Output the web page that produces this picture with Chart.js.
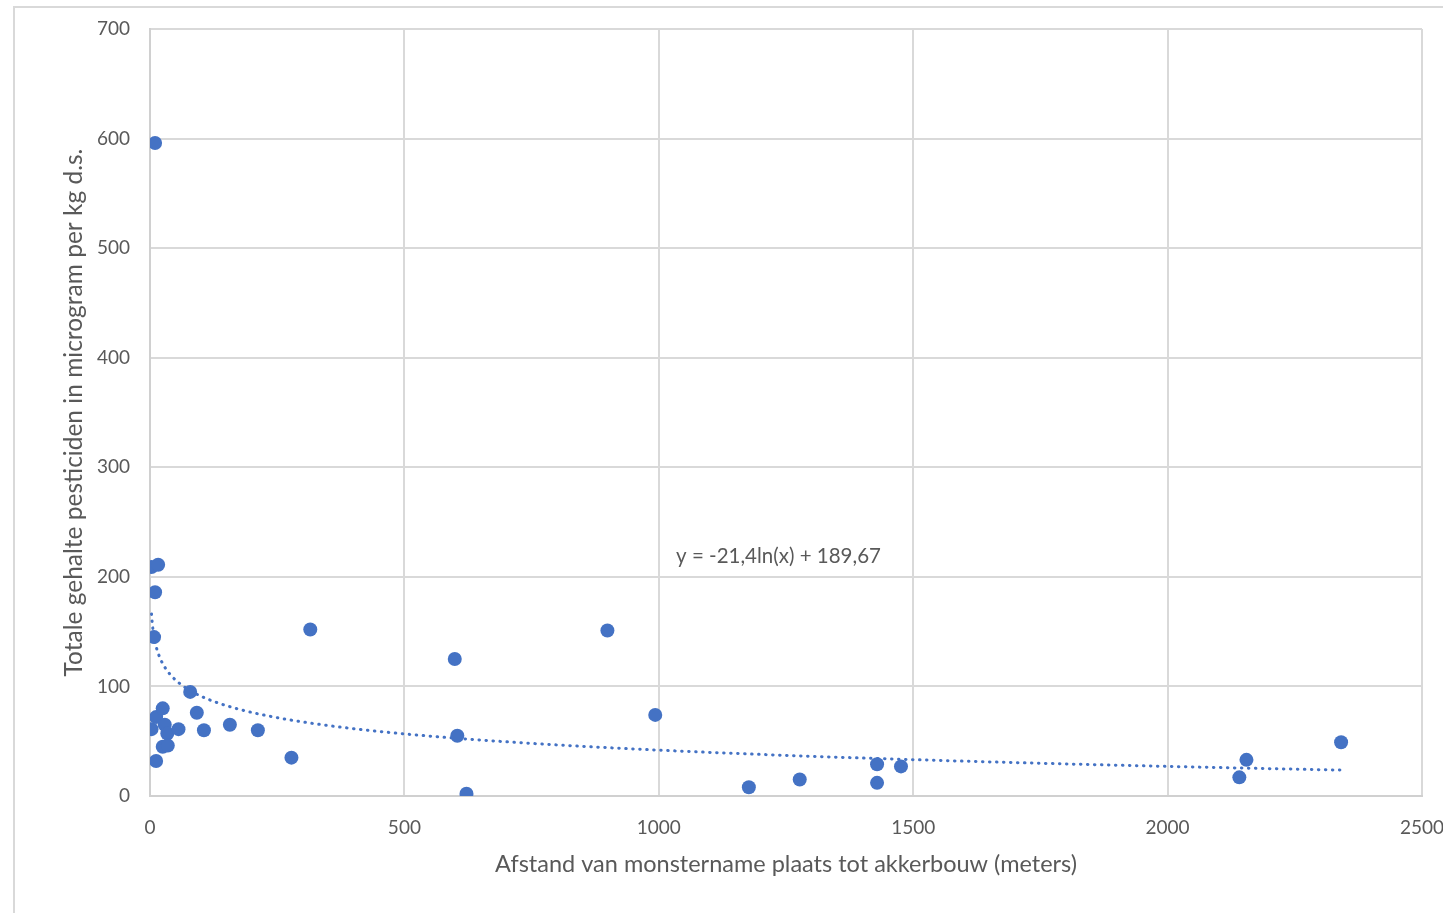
<!DOCTYPE html>
<html>
<head>
<meta charset="utf-8">
<script src="https://cdn.jsdelivr.net/npm/chart.js@4/dist/chart.umd.min.js"></script>
<style>
  html, body { margin: 0; padding: 0; background: #fff; overflow: hidden; width: 1443px; height: 913px; }
  #frame { position: absolute; left: 13px; top: 6px; width: 1500px; height: 1000px; border: 2px solid #d9d9d9; box-sizing: border-box; }
  #wrap { position: absolute; left: 0; top: 0; width: 1483px; height: 913px; }
</style>
</head>
<body>
<div id="frame"></div>
<div id="wrap"><canvas id="c" width="1483" height="913"></canvas></div>
<script>
// Distance (m) and total pesticide content (µg/kg d.s.)
const distances = [10, 3, 16, 10, 8, 3, 12, 25, 29, 34, 56, 79, 92, 106, 157, 212, 25, 35, 12, 278, 315, 599, 604, 622, 899, 993, 1177, 1277, 1429, 1429, 1476, 2141, 2155, 2341];
const totals    = [596, 209, 211, 186, 145, 61, 72, 80, 65, 57, 61, 95, 76, 60, 65, 60, 45, 46, 32, 35, 152, 125, 55, 2, 151, 74, 8, 15, 29, 12, 27, 17, 33, 49];

// Trendline equation as shown on the chart: y = -21,4 ln(x) + 189,67
const trendA = -21.4;
const trendB = 189.67;
const equationLabel = 'y = -21,4ln(x) + 189,67';

const xTicks = [0, 500, 1000, 1500, 2000, 2500];
const yTicks = [0, 100, 200, 300, 400, 500, 600, 700];

const xTitle = 'Afstand van monstername plaats tot akkerbouw (meters)';
const yTitle = 'Totale gehalte pesticiden in microgram per kg d.s.';

const points = distances.map((d, i) => ({ x: d, y: totals[i] }));

// trendline sampled between min and max distance
const xmin = Math.min(...distances), xmax = Math.max(...distances);
const trend = [];
const N = 300;
for (let i = 0; i <= N; i++) {
  const x = xmin * Math.pow(xmax / xmin, i / N);
  trend.push({ x: x, y: trendA * Math.log(x) + trendB });
}

const FONT = 'Lato, "Open Sans", sans-serif';
const GREY = '#595959';

const eqPlugin = {
  id: 'eq',
  afterDatasetsDraw(chart) {
    const { ctx, scales } = chart;
    const px = scales.x.getPixelForValue(1034);
    const py = scales.y.getPixelForValue(219);
    ctx.save();
    ctx.font = '20.5px ' + FONT;
    ctx.fillStyle = GREY;
    ctx.textAlign = 'left';
    ctx.textBaseline = 'middle';
    ctx.fillText(equationLabel, px, py);
    ctx.restore();
  }
};

new Chart(document.getElementById('c'), {
  type: 'scatter',
  data: {
    datasets: [
      {
        label: 'Totale gehalte',
        data: points,
        backgroundColor: '#4472C4',
        borderColor: '#4472C4',
        pointRadius: 7,
        pointHoverRadius: 7,
        borderWidth: 0
      },
      {
        label: 'Trend',
        type: 'line',
        data: trend,
        borderColor: '#4472C4',
        borderWidth: 3,
        borderDash: [0.5, 6.5],
        borderCapStyle: 'round',
        pointRadius: 0,
        fill: false,
        tension: 0
      }
    ]
  },
  options: {
    responsive: false,
    animation: false,
    layout: { padding: { top: 29, right: 61, left: 0, bottom: 0 } },
    plugins: { legend: { display: false }, tooltip: { enabled: false } },
    scales: {
      x: {
        type: 'linear',
        min: 0, max: 2500,
        afterBuildTicks: s => { s.ticks = xTicks.map(v => ({ value: v })); },
        afterFit: s => { s.height = 117; },
        grid: { color: '#d9d9d9', lineWidth: 2, drawTicks: false },
        border: { color: '#d0d0d0', width: 2 },
        ticks: { color: GREY, font: { family: FONT, size: 19 }, padding: 20, maxRotation: 0, callback: v => String(v) },
        title: { display: true, text: xTitle, color: GREY, font: { family: FONT, size: 23.5 }, padding: { top: 0, bottom: 34 } }
      },
      y: {
        type: 'linear',
        min: 0, max: 700,
        afterBuildTicks: s => { s.ticks = yTicks.map(v => ({ value: v })); },
        afterFit: s => { s.width = 150; s.paddingTop = 0; },
        grid: { color: '#d9d9d9', lineWidth: 2, drawTicks: false },
        border: { color: '#d0d0d0', width: 2 },
        ticks: { color: GREY, font: { family: FONT, size: 19, lineHeight: 1 }, padding: 20, callback: v => String(v) },
        title: { display: true, text: yTitle, color: GREY, font: { family: FONT, size: 24.5 }, padding: { top: 59, bottom: 0 } }
      }
    }
  },
  plugins: [eqPlugin]
});
</script>
</body>
</html>
